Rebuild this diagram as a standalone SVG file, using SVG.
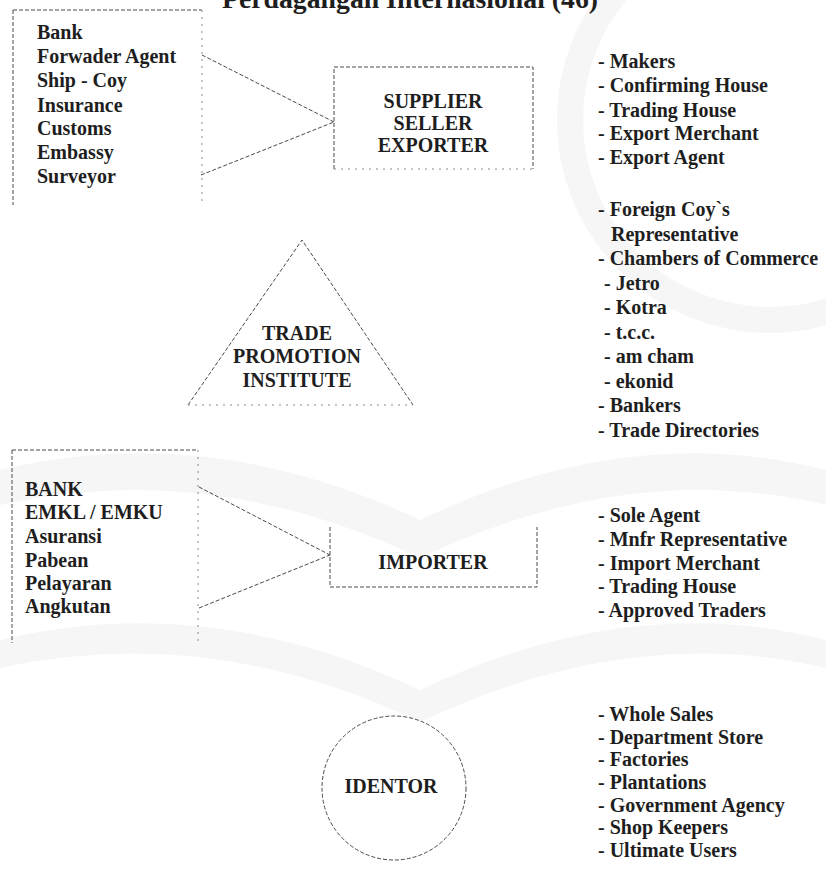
<svg xmlns="http://www.w3.org/2000/svg" width="826" height="870" viewBox="0 0 826 870">
<style>
.t{font-family:"Liberation Serif","Times New Roman",serif;font-size:20px;font-weight:bold;fill:#1e1e1e}
.c{text-anchor:middle}
.ln{fill:none;stroke:#4a4a4a;stroke-width:1;stroke-dasharray:4 2}
.fa{fill:none;stroke:#8a8a8a;stroke-width:1;stroke-dasharray:2 5}
.wm{fill:#f6f6f6;stroke:none}
</style>
<rect x="0" y="0" width="826" height="870" fill="#ffffff"/>
<g id="watermark">
<circle cx="770" cy="120" r="200" fill="none" stroke="#f6f6f6" stroke-width="26"/>
<path class="wm" d="M0,470 Q210,420 420,520 Q630,420 826,470 L826,505 Q630,458 420,558 Q210,458 0,505 Z"/>
<path class="wm" d="M0,640 Q210,590 420,690 Q630,590 826,640 L826,668 Q630,622 420,722 Q210,622 0,668 Z"/>
</g>
<text id="title" class="t" x="222" y="8" style="font-size:27px" textLength="376" lengthAdjust="spacingAndGlyphs">Perdagangan Internasional (46)</text>

<g id="connectors">
<line class="ln" x1="202" y1="55" x2="334" y2="122"/>
<line class="ln" x1="201" y1="175" x2="334" y2="122"/>
<line class="ln" x1="199" y1="487" x2="330" y2="555"/>
<line class="ln" x1="199" y1="608" x2="330" y2="555"/>
</g>

<g id="export-services">
<path class="ln" d="M13,10 H202"/>
<path class="ln" d="M13,10 V205"/>
<path class="fa" d="M202,10 V205"/>
<text class="t" x="37" y="39">Bank</text>
<text class="t" x="37" y="63">Forwader Agent</text>
<text class="t" x="37" y="87">Ship - Coy</text>
<text class="t" x="37" y="112">Insurance</text>
<text class="t" x="37" y="135">Customs</text>
<text class="t" x="37" y="159">Embassy</text>
<text class="t" x="37" y="183">Surveyor</text>
</g>

<g id="supplier">
<path class="ln" d="M334,169 V67 H533 V169"/>
<path class="fa" d="M334,169 H533"/>
<text class="t c" x="433" y="108">SUPPLIER</text>
<text class="t c" x="433" y="130">SELLER</text>
<text class="t c" x="433" y="152">EXPORTER</text>
</g>

<g id="supplier-types">
<text class="t" x="598" y="68">- Makers</text>
<text class="t" x="598" y="92">- Confirming House</text>
<text class="t" x="598" y="117">- Trading House</text>
<text class="t" x="598" y="140">- Export Merchant</text>
<text class="t" x="598" y="164">- Export Agent</text>
</g>

<g id="trade-promotion">
<path class="ln" d="M188,405 L302,240 L413,405"/>
<path class="fa" d="M188,405 H413"/>
<text class="t c" x="297" y="340">TRADE</text>
<text class="t c" x="297" y="363">PROMOTION</text>
<text class="t c" x="297" y="387">INSTITUTE</text>
</g>

<g id="promotion-list">
<text class="t" x="598" y="216">- Foreign Coy`s</text>
<text class="t" x="611" y="241">Representative</text>
<text class="t" x="598" y="265">- Chambers of Commerce</text>
<text class="t" x="604" y="290">- Jetro</text>
<text class="t" x="604" y="314">- Kotra</text>
<text class="t" x="604" y="339">- t.c.c.</text>
<text class="t" x="604" y="363">- am cham</text>
<text class="t" x="604" y="388">- ekonid</text>
<text class="t" x="598" y="412">- Bankers</text>
<text class="t" x="598" y="437">- Trade Directories</text>
</g>

<g id="import-services">
<path class="ln" d="M12,450 H198"/>
<path class="ln" d="M12,450 V643"/>
<path class="fa" d="M198,450 V643"/>
<text class="t" x="25" y="496">BANK</text>
<text class="t" x="25" y="519">EMKL / EMKU</text>
<text class="t" x="25" y="543">Asuransi</text>
<text class="t" x="25" y="567">Pabean</text>
<text class="t" x="25" y="590">Pelayaran</text>
<text class="t" x="25" y="613">Angkutan</text>
</g>

<g id="importer">
<path class="ln" d="M330,527 V587 H537 V527"/>
<text class="t c" x="433" y="569">IMPORTER</text>
</g>

<g id="importer-types">
<text class="t" x="598" y="522">- Sole Agent</text>
<text class="t" x="598" y="546">- Mnfr Representative</text>
<text class="t" x="598" y="570">- Import Merchant</text>
<text class="t" x="598" y="593">- Trading House</text>
<text class="t" x="598" y="617">- Approved Traders</text>
</g>

<g id="identor">
<circle class="ln" cx="394" cy="788" r="72"/>
<text class="t c" x="391" y="793">IDENTOR</text>
</g>

<g id="identor-list">
<text class="t" x="598" y="721">- Whole Sales</text>
<text class="t" x="598" y="744">- Department Store</text>
<text class="t" x="598" y="766">- Factories</text>
<text class="t" x="598" y="789">- Plantations</text>
<text class="t" x="598" y="812">- Government Agency</text>
<text class="t" x="598" y="834">- Shop Keepers</text>
<text class="t" x="598" y="857">- Ultimate Users</text>
</g>
</svg>
